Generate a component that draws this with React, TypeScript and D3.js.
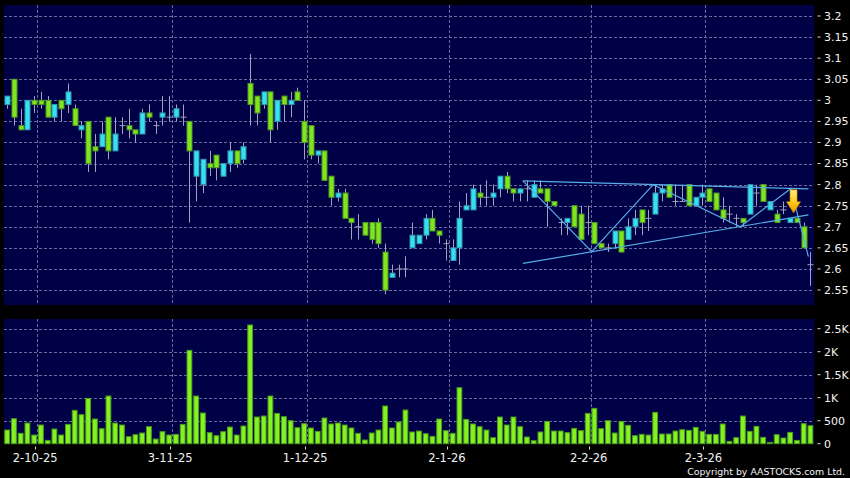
import React from "react";
import * as d3 from "d3";

const W = 850;
const H = 478;

// OHLC per trading session (index 0 .. 119)
const opens = [
  2.99, 3.05, 2.94, 2.93, 3.0, 3.0, 3.0, 2.96, 3.0, 2.99,
  2.98, 2.93, 2.95, 2.89, 2.89, 2.96, 2.88, 2.94, 2.94, 2.93,
  2.92, 2.97, 2.94, 2.96, 2.96, 2.96, 2.96, 2.95, 2.82, 2.8,
  2.85, 2.87, 2.82, 2.85, 2.88, 2.86, 3.04, 3.01, 2.99, 3.02,
  2.95, 3.01, 2.99, 3.02, 2.95, 2.94, 2.87, 2.88, 2.82, 2.77,
  2.78, 2.72, 2.7, 2.71, 2.71, 2.71, 2.64, 2.58, 2.6, 2.6,
  2.65, 2.66, 2.68, 2.72, 2.69, 2.66, 2.62, 2.65, 2.74, 2.74,
  2.78, 2.77, 2.77, 2.79, 2.82, 2.79, 2.78, 2.79, 2.77, 2.79,
  2.79, 2.76, 2.71, 2.71, 2.75, 2.73, 2.71, 2.71, 2.66, 2.65,
  2.66, 2.69, 2.67, 2.7, 2.74, 2.72, 2.73, 2.78, 2.8, 2.76,
  2.76, 2.8, 2.75, 2.77, 2.79, 2.78, 2.74, 2.73, 2.72, 2.72,
  2.73, 2.78, 2.8, 2.74, 2.73, 2.74, 2.71, 2.72, 2.7, 2.61,
];
const highs = [
  3.01, 3.05, 2.98, 3.0, 3.01, 3.02, 3.01, 2.99, 3.0, 3.04,
  2.99, 2.95, 2.95, 2.92, 2.95, 2.96, 2.96, 2.96, 2.98, 2.93,
  2.98, 2.99, 2.95, 3.01, 3.01, 2.99, 2.99, 2.95, 2.88, 2.86,
  2.88, 2.87, 2.85, 2.9, 2.88, 2.9, 3.11, 3.01, 3.02, 3.02,
  3.0, 3.01, 3.02, 3.03, 3.0, 2.94, 2.88, 2.88, 2.82, 2.79,
  2.79, 2.72, 2.73, 2.71, 2.71, 2.72, 2.66, 2.61, 2.61, 2.63,
  2.71, 2.68, 2.73, 2.74, 2.69, 2.67, 2.67, 2.76, 2.78, 2.8,
  2.8, 2.81, 2.8, 2.82, 2.83, 2.79, 2.79, 2.81, 2.81, 2.81,
  2.79, 2.76, 2.72, 2.72, 2.75, 2.75, 2.75, 2.71, 2.66, 2.66,
  2.69, 2.69, 2.72, 2.74, 2.74, 2.74, 2.8, 2.8, 2.8, 2.8,
  2.8, 2.8, 2.77, 2.8, 2.79, 2.78, 2.77, 2.75, 2.73, 2.72,
  2.8, 2.8, 2.8, 2.76, 2.74, 2.76, 2.72, 2.72, 2.71, 2.64,
];
const lows = [
  2.98, 2.94, 2.93, 2.93, 2.97, 2.98, 2.96, 2.95, 2.95, 2.97,
  2.94, 2.91, 2.83, 2.83, 2.89, 2.86, 2.88, 2.92, 2.91, 2.9,
  2.92, 2.95, 2.92, 2.94, 2.95, 2.95, 2.94, 2.71, 2.76, 2.78,
  2.82, 2.81, 2.82, 2.83, 2.84, 2.85, 2.94, 2.94, 2.98, 2.9,
  2.93, 2.95, 2.96, 3.0, 2.86, 2.86, 2.85, 2.81, 2.75, 2.76,
  2.72, 2.67, 2.67, 2.68, 2.66, 2.65, 2.54, 2.58, 2.58, 2.58,
  2.65, 2.66, 2.67, 2.69, 2.66, 2.62, 2.62, 2.61, 2.74, 2.74,
  2.75, 2.75, 2.75, 2.77, 2.78, 2.76, 2.76, 2.76, 2.77, 2.78,
  2.7, 2.75, 2.68, 2.68, 2.7, 2.67, 2.68, 2.66, 2.65, 2.64,
  2.65, 2.64, 2.67, 2.68, 2.68, 2.69, 2.73, 2.76, 2.77, 2.75,
  2.76, 2.75, 2.75, 2.75, 2.76, 2.74, 2.71, 2.71, 2.7, 2.7,
  2.73, 2.75, 2.76, 2.74, 2.71, 2.73, 2.71, 2.71, 2.65, 2.56,
];
const closes = [
  3.01, 2.96, 2.93, 3.0, 2.99, 2.99, 2.96, 2.99, 2.98, 3.02,
  2.94, 2.94, 2.85, 2.88, 2.92, 2.88, 2.92, 2.94, 2.93, 2.92,
  2.97, 2.96, 2.94, 2.97, 2.96, 2.98, 2.96, 2.88, 2.88, 2.86,
  2.84, 2.84, 2.85, 2.88, 2.85, 2.89, 2.99, 2.97, 3.02, 2.93,
  3.0, 2.99, 3.0, 3.0, 2.9, 2.87, 2.88, 2.81, 2.77, 2.78,
  2.72, 2.71, 2.7, 2.68, 2.67, 2.66, 2.55, 2.59, 2.6, 2.6,
  2.68, 2.68, 2.72, 2.69, 2.68, 2.66, 2.65, 2.72, 2.75, 2.79,
  2.77, 2.77, 2.78, 2.82, 2.79, 2.78, 2.79, 2.79, 2.8, 2.78,
  2.76, 2.75, 2.71, 2.72, 2.7, 2.67, 2.71, 2.66, 2.65, 2.65,
  2.69, 2.64, 2.7, 2.72, 2.71, 2.72, 2.78, 2.79, 2.77, 2.76,
  2.76, 2.75, 2.77, 2.78, 2.76, 2.74, 2.72, 2.73, 2.72, 2.71,
  2.8, 2.78, 2.76, 2.76, 2.71, 2.74, 2.72, 2.71, 2.65, 2.61,
];
const volumes = [
  297, 543, 225, 449, 188, 406, 72, 319, 188, 420,
  725, 630, 985, 536, 326, 1036, 449, 406, 152, 196,
  232, 370, 101, 261, 188, 203, 420, 2029, 1036, 667,
  239, 174, 261, 362, 188, 384, 2580, 580, 601, 1036,
  659, 587, 500, 348, 435, 341, 268, 558, 428, 449,
  406, 341, 225, 80, 232, 297, 819, 341, 471, 732,
  254, 275, 217, 159, 536, 283, 225, 1217, 529, 428,
  370, 297, 130, 580, 406, 580, 370, 145, 65, 254,
  485, 275, 275, 239, 333, 283, 659, 768, 326, 500,
  232, 485, 399, 174, 203, 188, 681, 210, 210, 275,
  304, 290, 355, 268, 203, 203, 428, 51, 130, 601,
  268, 377, 138, 29, 196, 123, 246, 72, 435, 391,
];

const priceTicks = [3.2, 3.15, 3.1, 3.05, 3, 2.95, 2.9, 2.85, 2.8, 2.75, 2.7, 2.65, 2.6, 2.55];
const priceTickLabels = ["3.2", "3.15", "3.1", "3.05", "3", "2.95", "2.9", "2.85", "2.8", "2.75", "2.7", "2.65", "2.6", "2.55"];
const volTicks = [0, 500, 1000, 1500, 2000, 2500];
const volTickLabels = ["0", "500", "1K", "1.5K", "2K", "2.5K"];
const dateTickIndex = [4, 24, 44, 65, 86, 103];
const dateTickLabels = ["2-10-25", "3-11-25", "1-12-25", "2-1-26", "2-2-26", "2-3-26"];

// drawn trend annotations (session index, price)
const zigzagIdx = [76.4, 86.6, 95.7, 108.6, 116.1, 118.7];
const zigzagPrice = [2.809, 2.641, 2.8, 2.7, 2.791, 2.629];
const upperIdx = [76.4, 118.7];
const upperPrice = [2.809, 2.79];
const lowerIdx = [76.4, 118.7];
const lowerPrice = [2.613, 2.728];
const arrowIdx = 116.5;
const arrowPrice = 2.733;

const BG = "#000046";
const GRID = "#6a6a9c";
const GREEN = "#80e41e";
const GREEN_EDGE = "#4f9a22";
const CYAN = "#34e0f2";
const CYAN_EDGE = "#3394aa";
const WICK = "#a2a2b8";
const VOL = "#84f222";
const VOL_EDGE = "#4c9c18";
const LINE = "#55aee8";
const FONT = "'DejaVu Sans', Verdana, sans-serif";

export default function App() {
  const left = 4;
  const right = 814;
  const pTop = 5;
  const pBottom = 305;
  const vTop = 319;
  const vBottom = 444;

  const x = d3.scaleLinear().domain([-0.5, 119.5]).range([3.8, 813.8]);
  const yP = d3.scaleLinear().domain([2.55, 3.2]).range([290, 16]);
  const yV = d3.scaleLinear().domain([0, 2500]).range([443.7, 328.7]);

  const candles = opens.map((o, i) => ({ i, o, h: highs[i], l: lows[i], c: closes[i], v: volumes[i] }));
  const line = d3
    .line<[number, number]>()
    .x((d) => x(d[0]))
    .y((d) => yP(d[1]));

  const zig = zigzagIdx.map((v, k) => [v, zigzagPrice[k]] as [number, number]);
  const up = upperIdx.map((v, k) => [v, upperPrice[k]] as [number, number]);
  const lo = lowerIdx.map((v, k) => [v, lowerPrice[k]] as [number, number]);

  const ax = x(arrowIdx);
  const ay = yP(arrowPrice);
  const arrowPath = `M${ax - 3.5},${ay - 23} L${ax + 3.5},${ay - 23} L${ax + 3.5},${ay - 11} L${ax + 7},${ay - 11} L${ax},${ay} L${ax - 7},${ay - 11} L${ax - 3.5},${ay - 11} Z`;

  const gridX = (i: number) => x(i) + 3;

  return (
    <svg
      width={W}
      height={H}
      style={{ position: "absolute", left: 0, top: 0, display: "block" }}
      xmlns="http://www.w3.org/2000/svg"
    >
      <defs>
        <linearGradient id="arrowGrad" x1="0" y1="0" x2="0" y2="1">
          <stop offset="0%" stopColor="#fff27a" />
          <stop offset="55%" stopColor="#ffc814" />
          <stop offset="100%" stopColor="#f09400" />
        </linearGradient>
      </defs>
      <rect x={0} y={0} width={W} height={H} fill="#000" />
      <rect x={left} y={pTop} width={right - left} height={pBottom - pTop} fill={BG} />
      <rect x={left} y={vTop} width={right - left} height={vBottom - vTop} fill={BG} />

      {/* price grid */}
      <g stroke={GRID} strokeWidth={1} strokeDasharray="3,2" shapeRendering="crispEdges">
        {priceTicks.map((p) => (
          <line key={"pg" + p} x1={left} x2={right} y1={Math.round(yP(p)) + 0.5} y2={Math.round(yP(p)) + 0.5} />
        ))}
        {dateTickIndex.map((d) => (
          <line key={"pv" + d} x1={Math.round(gridX(d)) + 0.5} x2={Math.round(gridX(d)) + 0.5} y1={pTop} y2={pBottom} />
        ))}
        {volTicks.slice(1).map((v) => (
          <line key={"vg" + v} x1={left} x2={right} y1={Math.round(yV(v)) + 0.5} y2={Math.round(yV(v)) + 0.5} />
        ))}
        {dateTickIndex.map((d) => (
          <line key={"vv" + d} x1={Math.round(gridX(d)) + 0.5} x2={Math.round(gridX(d)) + 0.5} y1={vTop} y2={vBottom} />
        ))}
      </g>

      {/* volume bars */}
      <g>
        {candles.map((d) => (
          <rect
            key={"v" + d.i}
            x={x(d.i) - 2.4}
            y={yV(d.v)}
            width={4.8}
            height={Math.max(0.5, yV(0) - yV(d.v))}
            fill={VOL}
            stroke={VOL_EDGE}
            strokeWidth={1}
          />
        ))}
      </g>

      {/* wicks */}
      <g stroke={WICK} strokeWidth={1}>
        {candles.map((d) => (
          <line key={"w" + d.i} x1={Math.round(x(d.i)) + 0.5} x2={Math.round(x(d.i)) + 0.5} y1={yP(d.h)} y2={yP(d.l)} />
        ))}
      </g>

      {/* bodies */}
      <g>
        {candles.map((d) => {
          const cx = Math.round(x(d.i)) + 0.5;
          if (Math.abs(d.o - d.c) < 0.001) {
            return (
              <line
                key={"b" + d.i}
                x1={cx - 3}
                x2={cx + 3}
                y1={yP(d.c)}
                y2={yP(d.c)}
                stroke={WICK}
                strokeWidth={1}
              />
            );
          }
          const upC = d.c > d.o;
          const top = yP(Math.max(d.o, d.c));
          const bot = yP(Math.min(d.o, d.c));
          return (
            <rect
              key={"b" + d.i}
              x={cx - 2.5}
              y={top}
              width={5}
              height={Math.max(1, bot - top)}
              fill={upC ? CYAN : GREEN}
              stroke={upC ? CYAN_EDGE : GREEN_EDGE}
              strokeWidth={1}
            />
          );
        })}
      </g>

      {/* trend annotations */}
      <g fill="none" stroke={LINE} strokeWidth={1.2}>
        <path d={line(up) || ""} />
        <path d={line(lo) || ""} />
        <path d={line(zig) || ""} />
      </g>
      <path d={arrowPath} fill="url(#arrowGrad)" stroke="#d08a00" strokeWidth={0.6} />

      {/* right price axis */}
      <g fontFamily={FONT} fontSize={11} fill="#f2f2f2">
        {priceTicks.map((p, k) => (
          <g key={"pl" + p}>
            <line x1={817.5} x2={820.5} y1={yP(p)} y2={yP(p)} stroke="#d8d8d8" strokeWidth={1} />
            <text x={824} y={yP(p)} dy="0.36em">
              {priceTickLabels[k]}
            </text>
          </g>
        ))}
        {volTicks.map((v, k) => (
          <g key={"vl" + v}>
            <line x1={817.5} x2={820.5} y1={yV(v)} y2={yV(v)} stroke="#d8d8d8" strokeWidth={1} />
            <text x={824} y={yV(v)} dy="0.36em">
              {volTickLabels[k]}
            </text>
          </g>
        ))}
      </g>

      {/* date axis */}
      <g fontFamily={FONT} fontSize={11.5} fill="#f2f2f2">
        {dateTickIndex.map((d, k) => (
          <g key={"dl" + d}>
            <line
              x1={Math.round(gridX(d) - 2) + 0.5}
              x2={Math.round(gridX(d) - 2) + 0.5}
              y1={446.5}
              y2={449.5}
              stroke="#d8d8d8"
              strokeWidth={1}
            />
            <text x={gridX(d) - 2} y={462} textAnchor="middle">
              {dateTickLabels[k]}
            </text>
          </g>
        ))}
      </g>

      <text x={845} y={474.5} textAnchor="end" fontFamily={FONT} fontSize={9.4} fill="#f2f2f2">
        Copyright by AASTOCKS.com Ltd.
      </text>
    </svg>
  );
}
